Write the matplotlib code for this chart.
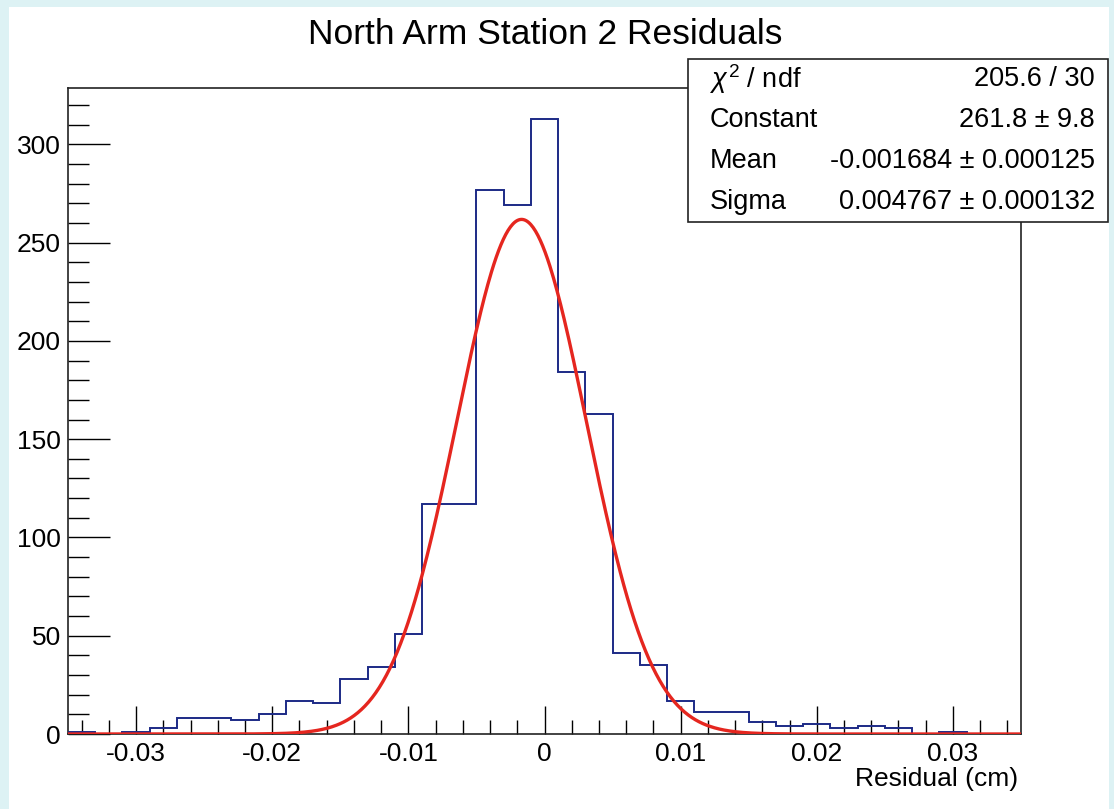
import numpy as np
import matplotlib
matplotlib.use("Agg")
import matplotlib.pyplot as plt
from matplotlib.patches import Rectangle

plt.rcParams['font.family'] = ['Liberation Sans', 'DejaVu Sans']
plt.rcParams['mathtext.fontset'] = 'custom'
plt.rcParams['mathtext.rm'] = 'Liberation Sans'
plt.rcParams['mathtext.it'] = 'Liberation Sans:italic'

# histogram: 35 bins of 0.002 from -0.035 to 0.035
bin_edges = np.round(np.arange(-0.035, 0.0351, 0.002), 4)
counts = [1, 0, 1, 3, 8, 8, 7, 10, 17, 16, 28, 34, 51, 117, 117, 277, 269, 313,
          184, 163, 41, 35, 17, 11, 11, 6, 4, 5, 3, 4, 3, 0, 1, 0, 0]

# gaussian fit results (from the stats box)
fit_const = 261.8
fit_mean = -0.001684
fit_sigma = 0.004767

stats_names = [r"$\chi^{2}$ / ndf", "Constant", "Mean", "Sigma"]
stats_values = ["205.6 / 30", "261.8 ± 9.8", "-0.001684 ± 0.000125", "0.004767 ± 0.000132"]

xtick_vals = [-0.03, -0.02, -0.01, 0, 0.01, 0.02, 0.03]
xtick_labels = ["-0.03", "-0.02", "-0.01", "0", "0.01", "0.02", "0.03"]
ytick_vals = [0, 50, 100, 150, 200, 250, 300]

W, H = 1114, 809
fig = plt.figure(figsize=(W / 100, H / 100), dpi=100, facecolor='#ddf2f4')
fig.patches.append(Rectangle((9 / W, 0), 1100 / W, 1 - 7 / H, transform=fig.transFigure,
                             facecolor='white', edgecolor='none', zorder=-10))

ax = fig.add_axes([68 / W, 1 - 734 / H, (1021 - 68) / W, (734 - 88) / H])
ax.set_facecolor('white')

ax.stairs(counts, bin_edges, color='#1c2a86', lw=1.4, zorder=3)

xf = np.linspace(-0.035, 0.035, 800)
yf = fit_const * np.exp(-0.5 * ((xf - fit_mean) / fit_sigma) ** 2)
ax.plot(xf, yf, color='#e5261f', lw=2.4, zorder=4)

ax.set_xlim(-0.035, 0.035)
ax.set_ylim(0, max(counts) * 1.05)

ax.set_xticks(xtick_vals, xtick_labels)
ax.set_xticks(np.round(np.arange(-0.034, 0.0351, 0.002), 4), minor=True)
ax.set_yticks(ytick_vals)
ax.set_yticks(np.arange(0, 330, 10), minor=True)

ax.tick_params(axis='x', which='major', direction='in', length=20, width=1, labelsize=19, pad=6)
ax.tick_params(axis='x', which='minor', direction='in', length=10, width=1)
ax.tick_params(axis='y', which='major', direction='in', length=30, width=1, labelsize=19, pad=5)
ax.tick_params(axis='y', which='minor', direction='in', length=15, width=1)
for s in ax.spines.values():
    s.set_linewidth(1.2)
    s.set_color('#222222')

fig.text(545 / W, 1 - 35 / H, "North Arm Station 2 Residuals", ha='center', va='center', fontsize=25.5)
fig.text(1018 / W, 1 - 779 / H, "Residual (cm)", ha='right', va='center', fontsize=19)

# stats box
bx0, by0, bx1, by1 = 688, 59, 1108, 222
fig.patches.append(Rectangle((bx0 / W, 1 - by1 / H), (bx1 - bx0) / W, (by1 - by0) / H,
                             transform=fig.transFigure, facecolor='white',
                             edgecolor='#222222', lw=1.2, zorder=5))
row_h = (by1 - by0) / len(stats_names)
for i, (n, v) in enumerate(zip(stats_names, stats_values)):
    yc = 1 - (by0 + row_h * (i + 0.5)) / H
    fig.text(710 / W, yc, n, ha='left', va='center', fontsize=19.5, zorder=6)
    fig.text(1095 / W, yc, v, ha='right', va='center', fontsize=19.5, zorder=6)

fig.savefig("out.png", dpi=100, facecolor=fig.get_facecolor())
